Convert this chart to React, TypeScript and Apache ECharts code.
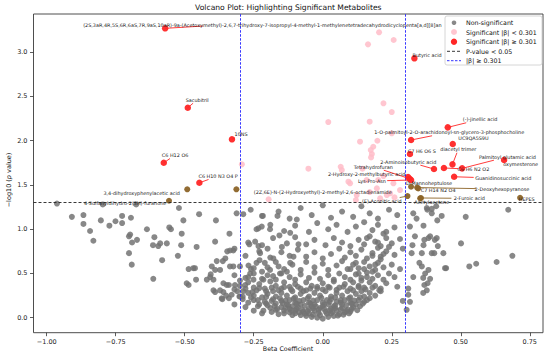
import React, { useEffect, useRef } from 'react';
import * as echarts from 'echarts';

const FONT = 'DejaVu Sans';

// ---- axes / thresholds ----
const xTicks = [-1, -0.75, -0.5, -0.25, 0, 0.25, 0.5, 0.75];
const yTicks = [0, 0.5, 1, 1.5, 2, 2.5, 3];
const xRange = [-1.048, 0.798];
const yRange = [-0.169, 3.432];
const pThreshold = 1.301;
const betaThreshold = 0.301;

// ---- non-significant metabolites [beta, -log10 p] ----
const greyCluster: number[][] = [
  [-0.10,0.05],[-0.08,0.03],[-0.06,0.02],[-0.04,0.01],[-0.02,0.0],[0.0,-0.01],[0.02,0.01],[0.04,0.02],[0.06,0.04],[-0.05,0.05],[-0.01,0.03],[0.03,0.05],[0.08,0.06],[-0.12,0.06],
  [-0.19,0.11],[-0.17,0.09],[-0.15,0.12],[-0.14,0.08],[-0.12,0.10],[-0.10,0.08],[-0.09,0.12],[-0.07,0.07],[-0.05,0.10],[-0.03,0.08],[-0.01,0.11],[0.01,0.07],[0.03,0.10],[0.05,0.08],[0.07,0.11],[0.09,0.09],[0.11,0.12],[0.0,0.13],[-0.04,0.13],[0.04,0.13],[-0.11,0.13],[0.10,0.07],
  [-0.27,0.17],[-0.25,0.20],[-0.23,0.15],[-0.21,0.18],[-0.2,0.14],[-0.18,0.21],[-0.17,0.16],[-0.15,0.19],[-0.13,0.15],[-0.12,0.2],[-0.1,0.17],[-0.08,0.15],[-0.07,0.2],[-0.05,0.17],[-0.03,0.15],[-0.02,0.2],[0.0,0.17],[0.02,0.15],[0.03,0.21],[0.05,0.18],[0.07,0.15],[0.08,0.2],[0.1,0.17],[0.12,0.15],[0.13,0.2],[0.15,0.18],[-0.29,0.21],[0.17,0.22],[-0.34,0.22],[0.29,0.19],
  [-0.33,0.26],[-0.31,0.3],[-0.29,0.24],[-0.27,0.28],[-0.25,0.25],[-0.24,0.31],[-0.22,0.23],[-0.2,0.27],[-0.18,0.3],[-0.17,0.24],[-0.15,0.28],[-0.13,0.25],[-0.11,0.3],[-0.1,0.23],[-0.08,0.27],[-0.06,0.31],[-0.05,0.24],[-0.03,0.28],[-0.01,0.25],[0.01,0.3],[0.03,0.24],[0.05,0.28],[0.07,0.25],[0.09,0.3],[0.1,0.23],[0.12,0.27],[0.14,0.3],[0.15,0.24],[0.17,0.28],[0.19,0.25],[0.21,0.3],[-0.36,0.29],[0.31,0.26],
  [-0.3,0.36],[-0.27,0.4],[-0.25,0.34],[-0.23,0.38],[-0.21,0.33],[-0.19,0.41],[-0.17,0.36],[-0.15,0.33],[-0.14,0.4],[-0.12,0.35],[-0.1,0.38],[-0.08,0.33],[-0.06,0.4],[-0.04,0.36],[-0.02,0.33],[0.0,0.39],[0.02,0.35],[0.04,0.41],[0.06,0.34],[0.08,0.38],[0.1,0.33],[0.11,0.4],[0.13,0.36],[0.15,0.34],[0.17,0.4],[0.19,0.36],[0.21,0.33],[0.23,0.39],[-0.34,0.37],[0.27,0.35],
  [-0.28,0.45],[-0.25,0.5],[-0.22,0.44],[-0.2,0.48],[-0.17,0.43],[-0.15,0.5],[-0.12,0.46],[-0.1,0.43],[-0.08,0.49],[-0.05,0.45],[-0.03,0.51],[-0.01,0.44],[0.02,0.48],[0.04,0.43],[0.06,0.5],[0.08,0.46],[0.1,0.43],[0.12,0.49],[0.14,0.45],[0.16,0.51],[0.18,0.44],[0.2,0.48],[0.22,0.43],[0.24,0.5],[0.26,0.46],[-0.32,0.48],
  [-0.3,0.58],[-0.26,0.55],[-0.24,0.62],[-0.2,0.57],[-0.17,0.63],[-0.14,0.55],[-0.11,0.6],[-0.08,0.54],[-0.06,0.63],[-0.03,0.57],[0.0,0.61],[0.02,0.54],[0.05,0.59],[0.07,0.64],[0.09,0.55],[0.11,0.6],[0.13,0.56],[0.15,0.63],[0.17,0.58],[0.19,0.54],[0.2,0.62],[0.22,0.57],[0.25,0.6],[0.28,0.55],
  [-0.28,0.7],[-0.23,0.75],[-0.19,0.68],[-0.15,0.74],[-0.12,0.7],[-0.09,0.77],[-0.06,0.69],[-0.03,0.74],[0.0,0.67],[0.03,0.72],[0.06,0.78],[0.08,0.68],[0.1,0.74],[0.12,0.7],[0.14,0.77],[0.16,0.67],[0.18,0.73],[0.2,0.79],[0.21,0.69],[0.23,0.75],[0.26,0.71],[0.29,0.78],
  [-0.27,0.85],[-0.22,0.82],[-0.18,0.9],[-0.13,0.84],[-0.1,0.91],[-0.06,0.83],[-0.03,0.88],[0.01,0.82],[0.04,0.9],[0.07,0.85],[0.1,0.81],[0.13,0.88],[0.15,0.83],[0.17,0.92],[0.19,0.86],[0.21,0.81],[0.23,0.9],[0.25,0.84],[0.28,0.89],
  [-0.24,1.0],[-0.19,1.05],[-0.14,0.98],[-0.1,1.04],[-0.05,0.97],[-0.02,1.07],[0.02,1.0],[0.05,1.05],[0.09,0.97],[0.12,1.03],[0.15,1.08],[0.18,0.99],[0.2,1.05],[0.23,0.97],[0.26,1.02],
  [-0.22,1.15],[-0.16,1.2],[-0.12,1.12],[-0.08,1.24],[-0.04,1.16],[0.0,1.27],[0.03,1.13],[0.07,1.2],[0.11,1.14],[0.14,1.26],[0.17,1.18],[0.2,1.12],[0.24,1.22],[0.27,1.16],
  [-0.16,0.04],[-0.14,0.05],[-0.11,0.03],[-0.085,0.06],[-0.065,0.045],[-0.035,0.035],[-0.015,0.055],[0.015,0.045],[0.035,0.065],[0.055,0.025],[0.075,0.035],[0.095,0.05],
  [-0.215,0.08],[-0.185,0.065],[-0.165,0.1],[-0.135,0.11],[-0.115,0.085],[-0.095,0.1],[-0.075,0.09],[-0.055,0.075],[-0.035,0.105],[-0.015,0.09],[0.005,0.1],[0.025,0.085],[0.045,0.11],[0.065,0.095],[0.085,0.075],[0.105,0.1],[0.125,0.085],
  [-0.235,0.13],[-0.205,0.16],[-0.175,0.135],[-0.145,0.165],[-0.125,0.14],[-0.095,0.16],[-0.065,0.135],[-0.045,0.16],[-0.025,0.13],[0.005,0.15],[0.025,0.18],[0.045,0.14],[0.065,0.17],[0.085,0.14],[0.105,0.16],[0.135,0.13],[0.145,0.16],
  [-0.26,0.23],[-0.235,0.2],[-0.205,0.235],[-0.185,0.19],[-0.155,0.22],[-0.135,0.195],[-0.105,0.215],[-0.085,0.19],[-0.055,0.22],[-0.035,0.195],[-0.005,0.225],[0.015,0.2],[0.045,0.23],[0.065,0.2],[0.095,0.22],[0.115,0.195],[0.135,0.23],[0.16,0.2],
  [-0.28,0.33],[-0.255,0.29],[-0.23,0.335],[-0.205,0.3],[-0.185,0.34],[-0.16,0.31],[-0.14,0.345],[-0.115,0.32],[-0.09,0.35],[-0.07,0.3],[-0.045,0.33],[-0.02,0.35],[0.0,0.32],[0.025,0.34],[0.05,0.315],[0.075,0.35],[0.11,0.31],[0.13,0.345],[0.155,0.32],[0.18,0.34],[0.205,0.31],
  [0.14,0.42],[0.16,0.46],[0.18,0.52],[0.19,0.6],[0.21,0.66],[0.22,0.72],[0.2,0.85],[0.24,0.8],[0.18,0.7],[0.15,0.55],[0.13,0.5],[0.12,0.62],[0.1,0.55],[0.16,0.9],[0.22,0.95],
  [-0.3,0.42],[-0.27,0.46],[-0.22,0.52],[-0.18,0.47],[-0.25,0.56],[-0.21,0.62],[-0.16,0.58],[-0.13,0.52],[-0.32,0.32],[-0.35,0.25],[-0.32,0.15],[-0.28,0.12],[-0.25,0.08],[-0.22,0.05],
];

const greyOuter: number[][] = [
  [-0.963,1.29],[-0.909,1.14],[-0.867,1.16],[-0.867,1.06],[-0.843,0.98],[-0.831,0.87],[-0.804,1.10],[-0.773,1.04],[-0.751,1.09],[-0.727,1.15],[-0.727,1.07],[-0.695,1.13],[-0.702,0.92],[-0.698,0.94],[-0.691,0.85],[-0.673,0.88],[-0.702,0.73],[-0.692,0.60],[-0.676,1.28],[-0.797,1.28],[-0.637,1.0],[-0.61,0.91],[-0.615,0.82],[-0.596,0.81],[-0.589,0.84],[-0.565,0.84],[-0.582,0.65],[-0.556,1.02],[-0.55,1.0],[-0.521,1.24],[-0.505,1.10],[-0.511,0.95],[-0.513,0.82],[-0.525,0.70],[-0.614,0.44],[-0.486,0.55],[-0.469,0.56],[-0.457,0.80],[-0.448,1.17],[-0.493,0.39],[-0.486,0.37],[-0.459,0.43],
  [-0.387,1.10],[-0.338,0.95],[-0.39,0.86],[-0.324,0.76],[-0.336,0.76],[-0.346,0.75],[-0.402,0.58],[-0.384,0.64],[-0.39,0.54],[-0.408,0.46],[-0.396,0.43],[-0.463,0.56],[-0.372,0.54],[-0.36,0.39],[-0.39,0.29],[-0.366,0.22],[-0.353,0.67],[-0.362,0.64],[-0.336,0.58],[-0.42,0.43],[-0.406,0.49],[-0.396,0.31],[-0.372,0.31],[-0.364,0.21],[-0.348,0.37],[-0.318,0.37],[-0.302,0.24],[-0.324,0.58],[-0.32,0.78],
  [-0.312,1.18],[-0.288,1.17],[-0.261,1.22],[-0.217,1.15],[-0.164,1.15],[-0.094,1.11],[-0.233,1.01],[-0.221,1.03],[-0.191,1.0],[-0.157,0.93],[-0.118,0.96],[-0.088,0.83],[-0.266,0.83],[-0.245,0.86],[-0.233,0.81],[-0.2,0.78],[-0.227,0.73],[-0.229,0.65],[-0.179,0.67],[-0.191,0.54],[-0.269,0.59],[-0.263,0.50],[-0.251,0.43],[-0.288,0.30],[-0.3,0.24],[-0.281,0.37],[-0.215,0.43],[-0.155,0.50],[-0.118,0.62],[-0.106,0.69],[-0.148,0.80],
  [0.328,1.18],[0.379,1.22],[0.395,1.18],[0.415,1.10],[0.518,1.14],[0.672,1.22],[0.316,1.03],[0.334,0.92],[0.368,0.88],[0.383,0.90],[0.413,0.90],[0.417,0.81],[0.325,0.82],[0.322,0.73],[0.359,0.73],[0.395,0.73],[0.437,0.73],[0.501,0.84],[0.447,0.56],[0.531,0.58],[0.556,0.61],[0.630,0.63],[0.687,0.70],[0.359,0.58],[0.371,0.50],[0.364,0.45],[0.368,0.37],[0.377,0.31],[0.364,0.28],[0.328,0.46],[0.310,0.33],[0.316,0.18],[0.304,0.09],
  [0.377,1.24],[0.395,1.23],[0.411,1.26],[0.431,1.15],[0.365,1.04],[0.389,0.92],[0.406,0.88],[0.365,0.82],[0.404,0.73],[0.443,0.56],[0.383,0.54],[0.389,0.44],[0.380,0.39],[0.350,0.62],[0.340,1.12],
];

// ---- significant, |beta| < 0.301 ----
const pinkPoints: number[][] = [
  [0.204,3.225],[0.257,3.138],[0.164,3.089],[0.220,2.423],[0.250,2.324],[0.020,2.211],[0.170,2.215],[0.250,2.084],[0.135,1.989],[0.198,2.000],[0.183,1.932],[0.174,1.895],[0.178,1.850],[0.175,1.812],[-0.052,1.684],[0.065,1.706],[0.069,1.669],[-0.293,1.733],[0.159,1.556],[0.220,1.601],[0.093,1.537],[0.256,1.519],[0.196,1.462],[0.244,1.406],[0.123,1.386],[0.099,1.519],[0.201,1.556],[0.232,1.386],[0.208,1.349],[0.280,1.443],[-0.196,1.338],[0.144,1.684],[0.12,1.33],[0.17,1.42],[0.26,1.36],
];

// ---- significant, |beta| >= 0.301 (labelled) ----
const redNames = [
  '(2S,3aR,4R,5S,6R,6aS,7R,9aS,10aR)-9a-(Acetoxymethyl)-2,6,7-trihydroxy-7-isopropyl-4-methyl-1-methylenetetradecahydrodicyclopenta[a,d][8]annulen-5-yl acetate',
  'Sacubitril', '10NS', 'C6 H12 O6', 'C6 H10 N3 O4 P', 'Butyric acid', '(-)-jinellic acid',
  '1-O-palmitoyl-2-O-arachidonoyl-sn-glycero-3-phosphocholine', 'UC9QA5S9U', 'C7 H6 O6 S', 'diacetyl trimer',
  '2-Aminoisobutyric acid', 'C6 H6 N2 O2', 'Palmitoyl glutamic acid', 'oxymesterone', 'Guanidinosuccinic acid',
  'Tetrahydrofuran', '2-Hydroxy-2-methylbutyric acid', 'Lys-Pro-Asn',
];
const redBeta = [-0.571, -0.489, -0.329, -0.576, -0.447, 0.332, 0.453, 0.320, 0.471, 0.316, 0.470, 0.403, 0.439, 0.505, 0.657, 0.476, 0.315, 0.309, 0.320];
const redLogP = [3.270, 2.373, 2.016, 1.751, 1.525, 2.931, 2.151, 2.008, 1.963, 1.850, 1.733, 1.680, 1.692, 1.688, 1.782, 1.593, 1.571, 1.590, 1.556];

const brownNames = [
  '3,4-dihydroxyphenylacetic acid', '4-Sulfanyldihydro-2(3H)-furanone', '(2Z,6E)-N-(2-Hydroxyethyl)-2-methyl-2,6-octadienamide',
  'D-Mannoheptulose', 'C7 H14 N2 O4', '2-Deoxyhexopyranose', '(E)-Aconitic acid', 'Acetylacetone', '2-Furoic acid', 'HEPES',
];
const brownBeta = [-0.491, -0.557, -0.313, 0.320, 0.346, 0.342, 0.307, 0.353, 0.356, 0.715];
const brownLogP = [1.451, 1.322, 1.451, 1.480, 1.462, 1.471, 1.375, 1.349, 1.353, 1.356];

// ---- label placement (data coords): [x, y, align, drawLine, lineEndX?, lineEndY?] ----
const redLabelLayout: any[][] = [
  [-0.868, 3.313, 'l', 1, -0.434, 3.296],
  [-0.455, 2.463, 'c', 1], [-0.296, 2.072, 'c', 1], [-0.535, 1.838, 'c', 1], [-0.379, 1.601, 'c', 1],
  [0.378, 2.968, 'c', 0], [0.570, 2.242, 'c', 1], [0.458, 2.095, 'c', 1], [0.546, 2.027, 'c', 0],
  [0.359, 1.887, 'c', 1], [0.491, 1.903, 'c', 1], [0.310, 1.763, 'c', 1], [0.546, 1.677, 'c', 1],
  [0.669, 1.819, 'c', 1], [0.717, 1.737, 'c', 1], [0.654, 1.575, 'c', 1], [0.183, 1.706, 'c', 1],
  [0.159, 1.624, 'c', 1], [0.178, 1.545, 'c', 1],
];
const brownLabelLayout: any[][] = [
  [-0.656, 1.406, 'c', 0], [-0.716, 1.296, 'c', 1], [0.0, 1.420, 'c', 0],
  [0.385, 1.519, 'c', 0], [0.418, 1.443, 'c', 0], [0.649, 1.454, 'c', 1], [0.214, 1.319, 'c', 1],
  [0.395, 1.311, 'c', 0], [0.531, 1.349, 'c', 1], [0.739, 1.338, 'c', 0],
];

const GREY = '#737373';
const PINK = '#ffbcc8';
const RED = '#ff2626';
const BROWN = '#8c6428';
const LABEL_FS = 4.9;
const LEGEND_LEFT = 445;

export default function App() {
  const ref = useRef<HTMLDivElement>(null);
  useEffect(() => {
    document.body.style.margin = '0';
    if (!ref.current) return;
    const chart = echarts.init(ref.current, undefined, { renderer: 'svg' });

    const annots = [
      ...redNames.map((n, i) => ({ name: n, x: redBeta[i], y: redLogP[i], lay: redLabelLayout[i], color: RED })),
      ...brownNames.map((n, i) => ({ name: n, x: brownBeta[i], y: brownLogP[i], lay: brownLabelLayout[i], color: BROWN })),
    ];

    const fmtX = (v: number) => (v < 0 ? '\u2212' : '') + Math.abs(v).toFixed(2);
    const fmtY = (v: number) => (v < 0 ? '\u2212' : '') + Math.abs(v).toFixed(1);

    const legendRows = [22.7, 32, 41.7, 51.3, 60.7];
    const legendX = 454;
    const legendTextX = 466;
    const legendTexts = ['Non-significant', 'Significant |\u03b2| < 0.301', 'Significant |\u03b2| \u2265 0.301', 'P-value < 0.05', '|\u03b2| \u2265 0.301'];

    const option: any = {
      animation: false,
      textStyle: { fontFamily: FONT },
      grid: { left: 33.5, right: 7, top: 14, bottom: 24.3, show: true, borderColor: '#3a3a3a', borderWidth: 0.9, backgroundColor: 'transparent' },
      xAxis: {
        type: 'value', min: xRange[0], max: xRange[1], position: 'bottom',
        axisLine: { show: false, onZero: false },
        splitLine: { show: false },
        axisTick: { show: true, length: 3.5, customValues: xTicks, lineStyle: { color: '#333', width: 0.8 } },
        axisLabel: { customValues: xTicks, formatter: fmtX, fontSize: 6.5, color: '#222', margin: 5.5, fontFamily: FONT },
      },
      yAxis: {
        type: 'value', min: yRange[0], max: yRange[1], position: 'left',
        axisLine: { show: false, onZero: false },
        splitLine: { show: false },
        axisTick: { show: true, length: 3.5, customValues: yTicks, lineStyle: { color: '#333', width: 0.8 } },
        axisLabel: { customValues: yTicks, formatter: fmtY, fontSize: 6.5, color: '#222', margin: 6, fontFamily: FONT },
      },
      series: [
        {
          type: 'scatter', name: 'Non-significant', data: [...greyCluster, ...greyOuter],
          symbolSize: 6, itemStyle: { color: GREY, opacity: 0.85 }, z: 2, silent: true,
          markLine: {
            silent: true, symbol: ['none', 'none'], label: { show: false },
            data: [
              { yAxis: pThreshold, lineStyle: { color: '#222', type: [3, 2], width: 0.9 } },
              { xAxis: -betaThreshold, lineStyle: { color: '#1f1fff', type: [2.5, 1.5], width: 0.9 } },
              { xAxis: betaThreshold, lineStyle: { color: '#1f1fff', type: [2.5, 1.5], width: 0.9 } },
            ],
          },
        },
        {
          type: 'scatter', name: 'pink', data: pinkPoints, symbolSize: 6,
          itemStyle: { color: PINK, opacity: 0.85 }, z: 3, silent: true,
        },
        {
          type: 'scatter', name: 'red', data: redBeta.map((b, i) => [b, redLogP[i]]), symbolSize: 6.5,
          itemStyle: { color: RED, opacity: 0.95 }, z: 4, silent: true,
        },
        {
          type: 'scatter', name: 'brown', data: brownBeta.map((b, i) => [b, brownLogP[i]]), symbolSize: 6,
          itemStyle: { color: BROWN, opacity: 0.95 }, z: 4, silent: true,
        },
        {
          type: 'custom', name: 'labels', z: 5, silent: true, clip: false,
          encode: { x: 0, y: 1 },
          data: annots.map((a, i) => [a.x, a.y, i]),
          renderItem: (params: any, api: any) => {
            const a = annots[api.value(2) as number];
            const p = api.coord([a.x, a.y]);
            const lay = a.lay;
            const t = api.coord([lay[0], lay[1]]);
            let w = a.name.length * LABEL_FS * 0.53;
            const h = LABEL_FS + 1;
            const leftAligned = lay[2] === 'l';
            let maxW: number | undefined;
            if (leftAligned && t[0] + w > LEGEND_LEFT - 1) {
              maxW = LEGEND_LEFT - 1 - t[0];
              w = maxW;
            }
            const cx = leftAligned ? t[0] + w / 2 : t[0];
            const cy = t[1];
            const children: any[] = [];
            if (lay[3]) {
              let e: number[] | null = null;
              if (lay[4] !== undefined) {
                e = api.coord([lay[4], lay[5]]);
              } else {
                const dx = p[0] - cx;
                const dy = p[1] - cy;
                const sx = dx !== 0 ? (w / 2 + 1) / Math.abs(dx) : Infinity;
                const sy = dy !== 0 ? (h / 2 + 0.5) / Math.abs(dy) : Infinity;
                const s = Math.min(sx, sy);
                if (s < 1) e = [cx + dx * s, cy + dy * s];
              }
              if (e) {
                children.push({ type: 'line', shape: { x1: p[0], y1: p[1], x2: e[0], y2: e[1] }, style: { stroke: a.color, lineWidth: 0.9 } });
              }
            }
            const style: any = { text: a.name, fontSize: LABEL_FS, fontFamily: FONT, fill: '#1a1a1a', align: leftAligned ? 'left' : 'center', verticalAlign: 'middle' };
            if (maxW !== undefined) {
              style.width = maxW;
              style.overflow = 'truncate';
              style.ellipsis = '';
            }
            children.push({ type: 'text', x: t[0], y: t[1], style });
            return { type: 'group', children };
          },
        },
      ],
      graphic: [
        { type: 'text', x: 288.3, y: 7.5, z: 100, style: { text: 'Volcano Plot: Highlighting Significant Metabolites', fontSize: 7.6, fontFamily: FONT, fill: '#111', align: 'center', verticalAlign: 'middle' } },
        { type: 'text', x: 288, y: 348.5, z: 100, style: { text: 'Beta Coefficient', fontSize: 6.3, fontFamily: FONT, fill: '#111', align: 'center', verticalAlign: 'middle' } },
        {
          type: 'text', x: 9, y: 180, rotation: Math.PI / 2, z: 100,
          style: {
            text: '\u2212log10 ({i|p} value)', fontSize: 6.5, fontFamily: FONT, fill: '#111', align: 'center', verticalAlign: 'middle',
            rich: { i: { fontStyle: 'italic', fontSize: 6.5, fontFamily: FONT, fill: '#111' } },
          },
        },
        {
          type: 'group', z: 100,
          children: [
            { type: 'rect', shape: { x: LEGEND_LEFT, y: 16, width: 97, height: 49, r: 2 }, style: { fill: 'rgba(255,255,255,0.85)', stroke: '#cccccc', lineWidth: 0.8 }, z: 100 },
            { type: 'circle', shape: { cx: legendX, cy: legendRows[0], r: 2.3 }, style: { fill: GREY, opacity: 0.85 }, z: 101 },
            { type: 'circle', shape: { cx: legendX, cy: legendRows[1], r: 3 }, style: { fill: PINK, opacity: 0.85 }, z: 101 },
            { type: 'circle', shape: { cx: legendX, cy: legendRows[2], r: 3.2 }, style: { fill: RED }, z: 101 },
            { type: 'line', shape: { x1: 447, y1: legendRows[3], x2: 461, y2: legendRows[3] }, style: { stroke: '#222', lineWidth: 0.9, lineDash: [3, 2] }, z: 101 },
            { type: 'line', shape: { x1: 447, y1: legendRows[4], x2: 461, y2: legendRows[4] }, style: { stroke: '#1f1fff', lineWidth: 0.9, lineDash: [2.5, 1.5] }, z: 101 },
            ...legendTexts.map((t, i) => ({
              type: 'text', x: legendTextX, y: legendRows[i], z: 101,
              style: { text: t, fontSize: 6.3, fontFamily: FONT, fill: '#111', align: 'left', verticalAlign: 'middle' },
            })),
          ],
        },
      ],
    };
    chart.setOption(option);
    return () => chart.dispose();
  }, []);
  return <div ref={ref} style={{ width: 550, height: 357 }} />;
}
